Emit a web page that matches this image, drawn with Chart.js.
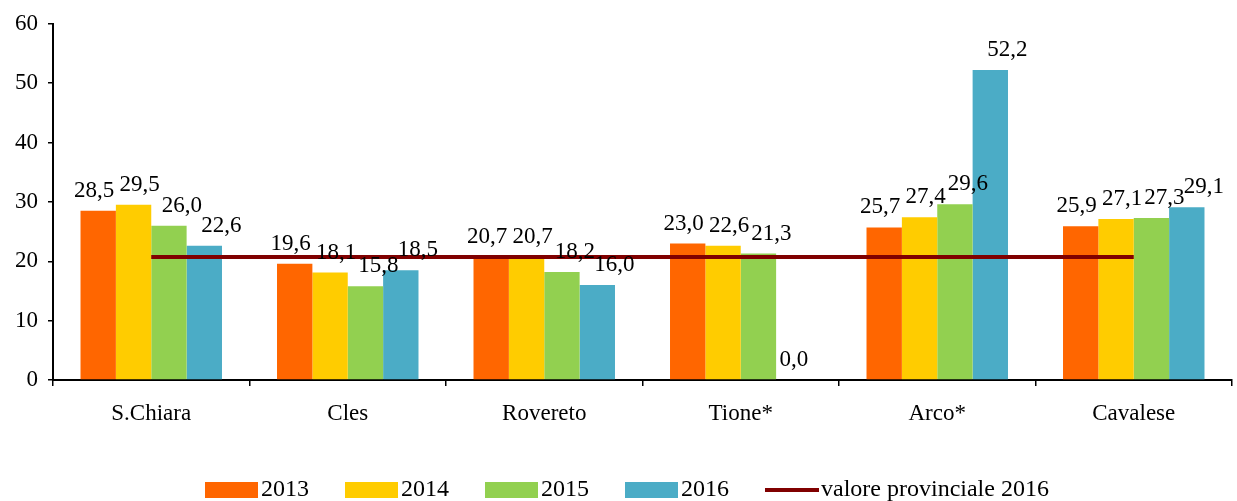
<!DOCTYPE html>
<html>
<head>
<meta charset="utf-8">
<script src="https://cdn.jsdelivr.net/npm/chart.js@4"></script>
<style>
  html, body { margin: 0; padding: 0; background: #fff; }
  #wrap { width: 1237px; height: 501px; }
</style>
</head>
<body>
<div id="wrap"><canvas id="c" width="1237" height="501"></canvas></div>
<script>
const categories = ['S.Chiara', 'Cles', 'Rovereto', 'Tione*', 'Arco*', 'Cavalese'];
const values2013 = [28.5, 19.6, 20.7, 23.0, 25.7, 25.9];
const values2014 = [29.5, 18.1, 20.7, 22.6, 27.4, 27.1];
const values2015 = [26.0, 15.8, 18.2, 21.3, 29.6, 27.3];
const values2016 = [22.6, 18.5, 16.0, 0.0, 52.2, 29.1];
const provinciale2016 = [20.7, 20.7, 20.7, 20.7, 20.7, 20.7];
const seriesLabels = ['2013', '2014', '2015', '2016', 'valore provinciale 2016'];
const yTicks = [0, 10, 20, 30, 40, 50, 60];

const FONT = '"Liberation Serif", "Times New Roman", serif';
const colors = ['#FF6600', '#FFCC00', '#92D050', '#4BACC6'];
const lineColor = '#800000';
const labelShiftX = [-4, 6, 13, 17];

const fmt = v => v.toFixed(1).replace('.', ',');

const barLabels = {
  id: 'barLabels',
  afterDatasetsDraw(chart) {
    const ctx = chart.ctx;
    ctx.save();
    ctx.font = '23px ' + FONT;
    ctx.fillStyle = '#000';
    ctx.textAlign = 'center';
    ctx.textBaseline = 'middle';
    chart.data.datasets.forEach((ds, i) => {
      if (ds.type === 'line') return;
      const meta = chart.getDatasetMeta(i);
      meta.data.forEach((el, j) => {
        const dx = ds.data[j] === 0 ? 0 : labelShiftX[i];
        ctx.fillText(fmt(ds.data[j]), el.x + dx, el.y - 20);
      });
    });
    ctx.restore();
  }
};

const customLegend = {
  id: 'customLegend',
  afterDraw(chart) {
    const ctx = chart.ctx;
    ctx.save();
    ctx.font = '24px ' + FONT;
    ctx.textBaseline = 'middle';
    ctx.textAlign = 'left';
    let x = 205;
    const y = 490;
    chart.data.datasets.forEach((ds) => {
      if (ds.type === 'line') {
        ctx.strokeStyle = ds.borderColor;
        ctx.lineWidth = 4;
        ctx.beginPath();
        ctx.moveTo(x, y);
        ctx.lineTo(x + 54, y);
        ctx.stroke();
      } else {
        ctx.fillStyle = ds.backgroundColor;
        ctx.fillRect(x, y - 8, 53, 16);
      }
      x += 56;
      ctx.fillStyle = '#000';
      ctx.fillText(ds.label, x, y);
      x += ctx.measureText(ds.label).width + 36;
    });
    ctx.restore();
  }
};

const barData = [values2013, values2014, values2015, values2016];

new Chart(document.getElementById('c'), {
  type: 'bar',
  data: {
    labels: categories,
    datasets: [
      ...barData.map((d, i) => ({
        type: 'bar',
        label: seriesLabels[i],
        data: d,
        backgroundColor: colors[i],
        borderWidth: 0,
        categoryPercentage: 0.72,
        barPercentage: 1.0,
        order: 1
      })),
      {
        type: 'line',
        label: seriesLabels[4],
        data: provinciale2016,
        borderColor: lineColor,
        backgroundColor: lineColor,
        borderWidth: 4,
        pointRadius: 0,
        fill: false,
        order: 0
      }
    ]
  },
  options: {
    responsive: false,
    animation: false,
    layout: { padding: { top: 22, right: 5, left: 0, bottom: 0 } },
    plugins: {
      legend: { display: false },
      tooltip: { enabled: false }
    },
    scales: {
      x: {
        offset: true,
        afterFit: s => { s.height = 121; },
        grid: { offset: true, drawOnChartArea: false, drawTicks: true, tickLength: 6, color: '#000', lineWidth: 1.5 },
        border: { color: '#000', width: 2 },
        ticks: { color: '#000', font: { family: FONT, size: 23 }, padding: 14 }
      },
      y: {
        min: 0,
        max: 60,
        afterFit: s => { s.width = 53; },
        afterBuildTicks: s => { s.ticks = yTicks.map(v => ({ value: v })); },
        grid: { drawOnChartArea: false, drawTicks: true, tickLength: 5, color: '#000', lineWidth: 1.5 },
        border: { color: '#000', width: 2 },
        ticks: { color: '#000', font: { family: FONT, size: 23 }, padding: 10 }
      }
    }
  },
  plugins: [barLabels, customLegend]
});
</script>
</body>
</html>
